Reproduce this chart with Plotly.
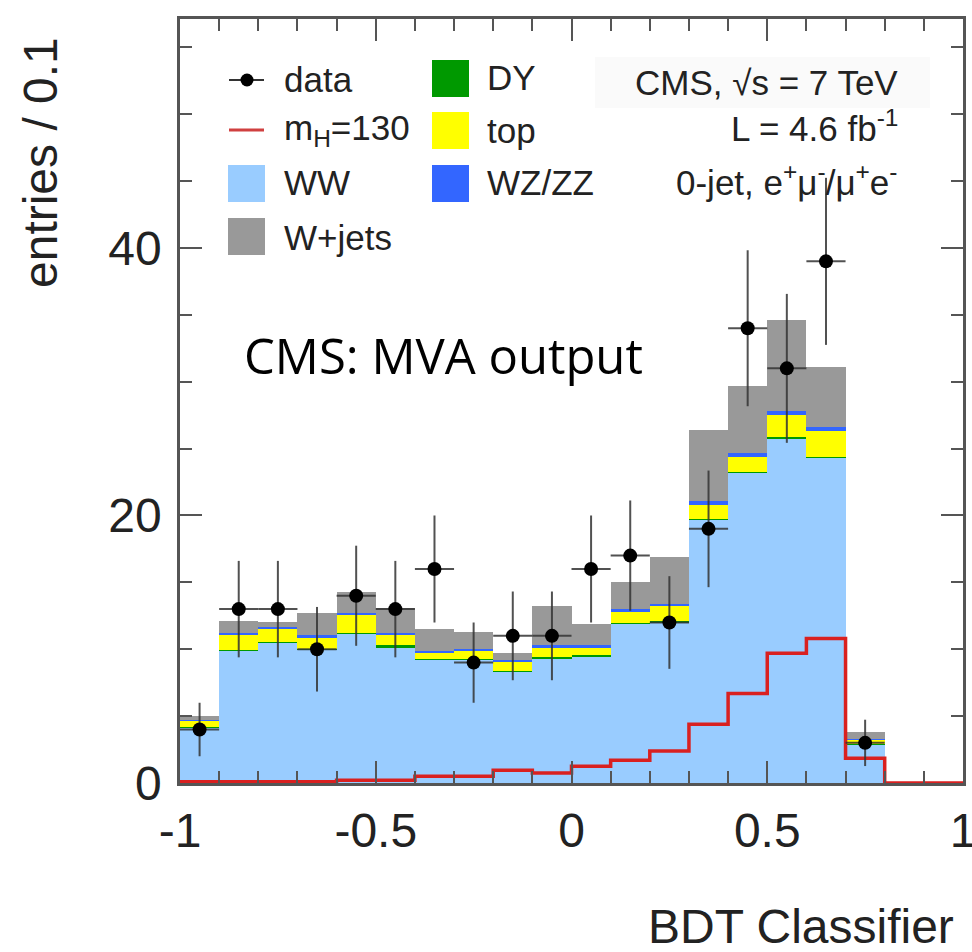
import plotly.graph_objects as go
import math

# ---------------- data ----------------
bin_centers = [-0.95, -0.85, -0.75, -0.65, -0.55, -0.45, -0.35, -0.25, -0.15, -0.05,
               0.05, 0.15, 0.25, 0.35, 0.45, 0.55, 0.65, 0.75, 0.85, 0.95]
bin_edges = [-1.0, -0.9, -0.8, -0.7, -0.6, -0.5, -0.4, -0.3, -0.2, -0.1, 0.0,
             0.1, 0.2, 0.3, 0.4, 0.5, 0.6, 0.7, 0.8, 0.9, 1.0]

ww = [4.15, 9.9, 10.5, 10.0, 11.2, 10.1, 9.2, 9.2, 8.3, 9.3,
      9.4, 11.9, 12.0, 19.7, 23.2, 25.7, 24.3, 2.9, 0, 0]
dy = [0.05, 0.05, 0.05, 0.05, 0.05, 0.25, 0.05, 0.05, 0.05, 0.15,
      0.15, 0.05, 0.1, 0.05, 0.05, 0.15, 0.1, 0.02, 0, 0]
top = [0.45, 1.1, 0.95, 0.8, 1.3, 0.7, 0.5, 0.65, 0.7, 0.65,
       0.55, 0.85, 1.1, 1.05, 1.15, 1.65, 1.9, 0.35, 0, 0]
wzzz = [0.05, 0.2, 0.15, 0.2, 0.15, 0.2, 0.15, 0.15, 0.15, 0.2,
        0.2, 0.2, 0.2, 0.3, 0.25, 0.3, 0.3, 0.05, 0, 0]
wjets = [0.3, 0.85, 0.4, 1.65, 1.6, 1.85, 1.6, 1.25, 0.5, 2.9,
         1.6, 2.0, 3.5, 5.3, 5.0, 6.8, 4.5, 0.48, 0, 0]

data_counts = [4, 13, 13, 10, 14, 13, 16, 9, 11, 11,
               16, 17, 12, 19, 34, 31, 39, 3, None, None]

signal_mh130 = [0.1, 0.1, 0.1, 0.1, 0.2, 0.2, 0.5, 0.5, 0.95, 0.75,
                1.25, 1.7, 2.4, 4.4, 6.7, 9.7, 10.8, 1.85, 0.0, 0.0]

x_tickvals = [-1, -0.5, 0, 0.5, 1]
x_ticktext = ["-1", "-0.5", "0", "0.5", "1"]
y_tickvals = [0, 20, 40]
y_ticktext = ["0", "20", "40"]

# ---------------- style ----------------
C_WW = "#99CCFF"
C_DY = "#009900"
C_TOP = "#FFFF00"
C_WZ = "#3366FF"
C_WJ = "#999999"
C_SIG = "#D92020"
FONT = "Liberation Sans, Arial, Helvetica, sans-serif"
AX = "#555555"

fig = go.Figure()

for name, vals, col in [("WW", ww, C_WW), ("DY", dy, C_DY), ("top", top, C_TOP),
                        ("WZ/ZZ", wzzz, C_WZ), ("W+jets", wjets, C_WJ)]:
    fig.add_trace(go.Bar(x=bin_centers, y=vals, width=0.1, name=name,
                         marker=dict(color=col, line=dict(width=0)),
                         showlegend=False, hoverinfo="skip"))

# signal step histogram
fig.add_trace(go.Scatter(x=bin_edges, y=signal_mh130 + [signal_mh130[-1]],
                         mode="lines", line=dict(color=C_SIG, width=3.5, shape="hv"),
                         showlegend=False, hoverinfo="skip"))

# data points
dx = [c for c, v in zip(bin_centers, data_counts) if v is not None]
dv = [v for v in data_counts if v is not None]
de = [math.sqrt(v) for v in dv]
fig.add_trace(go.Scatter(x=dx, y=dv, mode="markers",
                         marker=dict(color="black", size=14),
                         error_y=dict(type="data", array=de, width=0, thickness=2,
                                      color="rgba(50,50,50,0.85)"),
                         error_x=dict(type="constant", value=0.05, width=0, thickness=2,
                                      color="rgba(50,50,50,0.85)"),
                         showlegend=False, hoverinfo="skip"))

# ---------------- layout ----------------
X0, X1, Y0, Y1 = 180, 963, 19, 783


def px(x):
    return (x - X0) / (X1 - X0)


def py(y):
    return (Y1 - y) / (Y1 - Y0)


shapes = []
annotations = []

# legend (manual, two columns)
leg_font = dict(family=FONT, size=35, color="#222222")
# data symbol
shapes.append(dict(type="line", xref="paper", yref="paper", x0=px(229), x1=px(264),
                   y0=py(80), y1=py(80), line=dict(color="#333333", width=2)))
shapes.append(dict(type="circle", xref="paper", yref="paper", x0=px(240.5), x1=px(253.5),
                   y0=py(86.5), y1=py(73.5), fillcolor="black", line=dict(width=0)))
# mH line
shapes.append(dict(type="line", xref="paper", yref="paper", x0=px(229), x1=px(264),
                   y0=py(130), y1=py(130), line=dict(color="#D04040", width=3)))
squares = [(228, 165, C_WW), (228, 218, C_WJ), (432, 60, C_DY), (432, 112, C_TOP), (432, 165, C_WZ)]
for sx, sy, col in squares:
    shapes.append(dict(type="rect", xref="paper", yref="paper", x0=px(sx), x1=px(sx + 37),
                       y0=py(sy + 37), y1=py(sy), fillcolor=col, line=dict(width=0)))
leg_texts = [(282, 80, "data"), (282, 130, "m<sub>H</sub>=130"), (282, 183, "WW"),
             (282, 237, "W+jets"), (485, 78, "DY"), (485, 130, "top"), (485, 183, "WZ/ZZ")]
for tx, ty, t in leg_texts:
    annotations.append(dict(xref="paper", yref="paper", x=px(tx), y=py(ty), text=t,
                            showarrow=False, xanchor="left", yanchor="middle", font=leg_font))

# CMS info box
shapes.append(dict(type="rect", xref="paper", yref="paper", x0=px(595), x1=px(930),
                   y0=py(108), y1=py(57), fillcolor="#FAFAFA", line=dict(width=0), layer="below"))
info = [(83, "CMS, √s = 7 TeV"), (126, "L = 4.6 fb<sup>-1</sup>"),
        (180, "0-jet, e<sup>+</sup>μ<sup>-</sup>/μ<sup>+</sup>e<sup>-</sup>")]
for ty, t in info:
    annotations.append(dict(xref="paper", yref="paper", x=px(900), y=py(ty), text=t,
                            showarrow=False, xanchor="right", yanchor="middle", font=leg_font))

# big overlay label
annotations.append(dict(xref="paper", yref="paper", x=px(443), y=py(355),
                        text="CMS: MVA output", showarrow=False, xanchor="center",
                        yanchor="middle", font=dict(family="Open Sans, Lato, sans-serif",
                                                    size=49, color="black")))
# axis titles
annotations.append(dict(xref="paper", yref="paper", x=px(41), y=py(163),
                        text="entries / 0.1", textangle=-90, showarrow=False,
                        xanchor="center", yanchor="middle",
                        font=dict(family=FONT, size=48, color="#222222")))
annotations.append(dict(xref="paper", yref="paper", x=px(956), y=py(926),
                        text="BDT Classifier", showarrow=False,
                        xanchor="right", yanchor="middle",
                        font=dict(family=FONT, size=48, color="#222222")))

fig.update_layout(
    width=972, height=952,
    margin=dict(l=X0, r=972 - X1, t=Y0, b=952 - Y1, pad=0, autoexpand=False),
    paper_bgcolor="white", plot_bgcolor="white",
    barmode="stack", bargap=0,
    showlegend=False,
    shapes=shapes, annotations=annotations,
    xaxis=dict(range=[-1, 1], tickmode="array", tickvals=x_tickvals, ticktext=x_ticktext,
               ticks="inside", ticklen=22, tickwidth=1.5, tickcolor=AX,
               minor=dict(tickmode="linear", tick0=-1, dtick=0.1, ticks="inside",
                          ticklen=12, tickwidth=1.5, tickcolor=AX),
               showline=True, linecolor=AX, linewidth=2.5, mirror="allticks",
               showgrid=False, zeroline=False, ticklabeloverflow="allow", automargin=False,
               tickfont=dict(family=FONT, size=48, color="#222222"),
               ticklabelstandoff=4),
    yaxis=dict(range=[0, 57.12], tickmode="array", tickvals=y_tickvals, ticktext=y_ticktext,
               ticks="inside", ticklen=22, tickwidth=1.5, tickcolor=AX,
               minor=dict(tickmode="linear", tick0=0, dtick=5, ticks="inside",
                          ticklen=12, tickwidth=1.5, tickcolor=AX),
               showline=True, linecolor=AX, linewidth=2.5, mirror="allticks",
               showgrid=False, zeroline=False, ticklabeloverflow="allow", automargin=False,
               tickfont=dict(family=FONT, size=48, color="#222222"),
               ticklabelstandoff=6),
)

fig.write_html("out.html")
